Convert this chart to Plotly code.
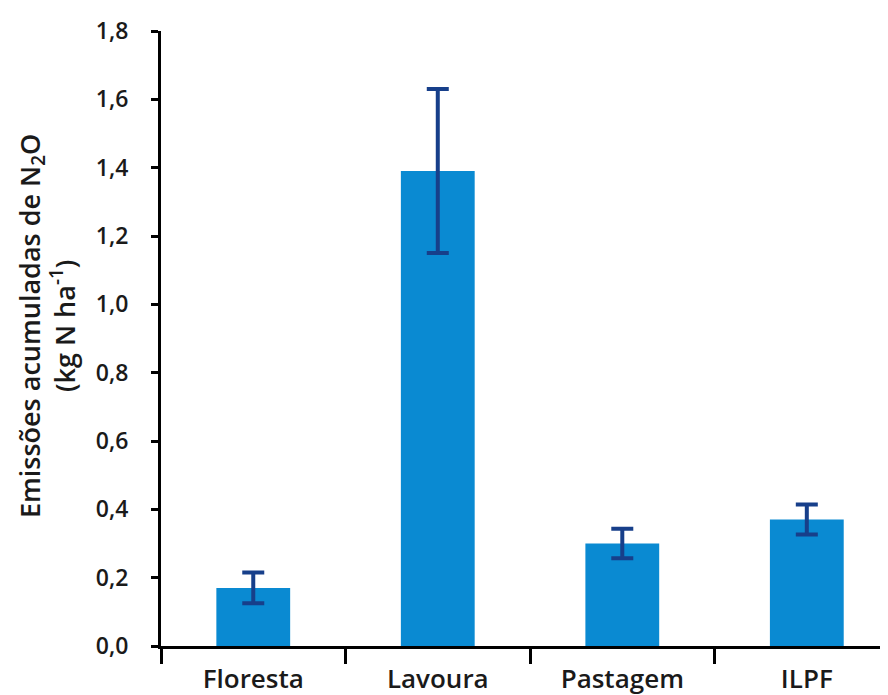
import plotly.graph_objects as go

categories = ["Floresta", "Lavoura", "Pastagem", "ILPF"]
values = [0.17, 1.39, 0.30, 0.37]
errors = [0.045, 0.24, 0.043, 0.044]
y_ticks = [0.0, 0.2, 0.4, 0.6, 0.8, 1.0, 1.2, 1.4, 1.6, 1.8]
y_title = "Emissões acumuladas de N<sub>2</sub>O<br>(kg N ha<sup>-1</sup>)"

FONT = "Open Sans"
TXT = "#1a1a1a"

fig = go.Figure()
fig.add_trace(go.Bar(
    x=categories, y=values,
    marker=dict(color="#0a8ad2", line=dict(width=0)),
    error_y=dict(type="data", array=errors, visible=True,
                 color="#173f8a", thickness=4, width=11),
    width=0.4,
))

fig.update_layout(
    width=880, height=687,
    margin=dict(l=153, r=0, t=23, b=49, autoexpand=False),
    paper_bgcolor="white", plot_bgcolor="white",
    separators=",.",
    showlegend=False,
    font=dict(family=FONT, size=24, color=TXT, weight=600),
)
fig.add_annotation(
    text=y_title, textangle=-90, showarrow=False,
    xref="paper", yref="paper", x=-0.157, y=0.52,
    xanchor="center", yanchor="middle",
    font=dict(family=FONT, size=27, color=TXT, weight=600),
)
fig.update_xaxes(
    type="category", range=[-0.5, 3.44],
    showline=True, linecolor="black", linewidth=3,
    ticks="outside", tickson="boundaries", ticklen=15, tickwidth=3, tickcolor="black",
    showgrid=False, zeroline=False,
    ticklabelstandoff=8,
    tickfont=dict(family=FONT, size=26, color=TXT, weight=600),
)
fig.update_yaxes(
    range=[0, 1.8], tickvals=y_ticks, tickformat=".1f",
    showline=True, linecolor="black", linewidth=3,
    ticks="outside", ticklen=7, tickwidth=3, tickcolor="black",
    showgrid=False, zeroline=False,
    ticklabelstandoff=18,
    tickfont=dict(family=FONT, size=23, color=TXT, weight=600),
)

fig.write_html("out.html")
